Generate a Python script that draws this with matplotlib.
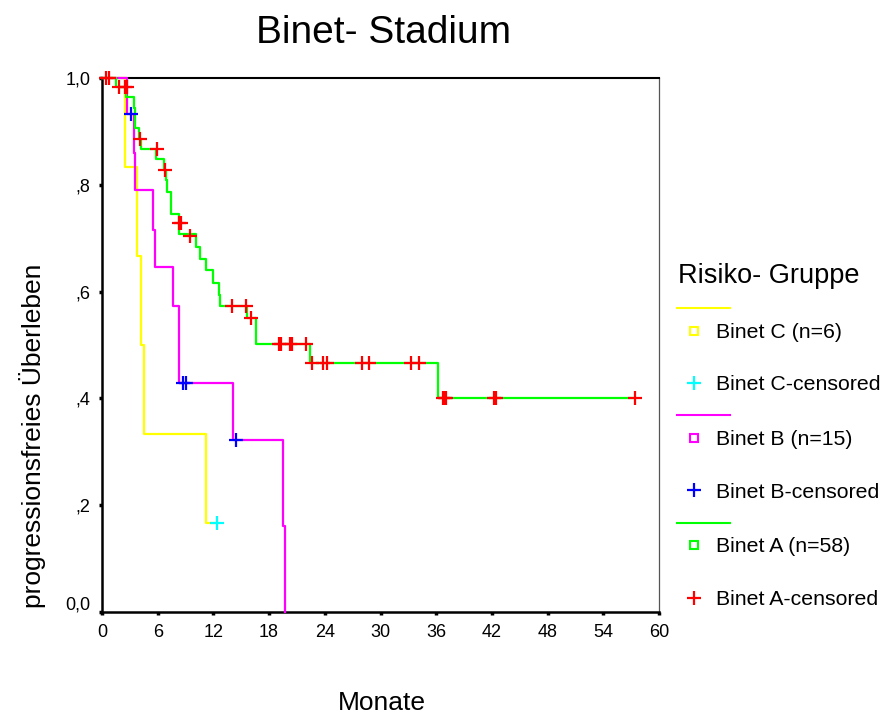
import matplotlib
matplotlib.use("Agg")
from matplotlib import pyplot as plt
from matplotlib.lines import Line2D
from matplotlib.transforms import ScaledTranslation

plt.rcParams['font.family'] = ['Liberation Sans', 'DejaVu Sans']

# Binet C (n=6)
c_times = [0, 2.5, 3.8, 4.2, 4.5, 11.2]
c_surv = [1.0, 0.833, 0.667, 0.5, 0.333, 0.167]
c_cens_t = [12.35]
c_cens_s = [0.167]

# Binet B (n=15)
b_times = [0, 2.7, 3.5, 3.55, 5.5, 5.75, 7.6, 8.3, 14.1, 19.5, 19.7]
b_surv = [1.0, 0.933, 0.86, 0.79, 0.716, 0.646, 0.573, 0.429, 0.322, 0.161, 0.0]
b_cens_t = [3.1, 8.7, 9.1, 14.4]
b_cens_s = [0.933, 0.429, 0.429, 0.322]

# Binet A (n=58)
a_times = [0, 1.5, 2.6, 3.4, 3.6, 4.0, 4.2, 5.8, 6.7, 6.85, 7.05, 7.4, 8.3,
           10.1, 10.6, 11.2, 12.0, 12.6, 12.75, 15.6, 16.55, 22.45, 36.2]
a_surv = [1.0, 0.983, 0.964, 0.944, 0.906, 0.886, 0.867, 0.848, 0.828, 0.809,
          0.786, 0.746, 0.707, 0.683, 0.661, 0.640, 0.617, 0.594, 0.573, 0.551,
          0.501, 0.467, 0.400]
a_cens_t = [0.45, 0.8, 1.85, 2.5, 2.65, 4.05, 5.9, 6.8, 8.3, 8.5, 9.5, 14.0,
            15.5, 16.1, 19.1, 19.3, 20.2, 20.5, 22.0, 22.6, 23.85, 24.2, 28.05,
            28.8, 33.3, 34.1, 36.7, 36.9, 37.1, 42.2, 42.45, 57.4]
a_cens_s = [1.0, 1.0, 0.983, 0.983, 0.983, 0.886, 0.867, 0.828, 0.728, 0.728,
            0.705, 0.573, 0.573, 0.551, 0.501, 0.501, 0.501, 0.501, 0.501,
            0.467, 0.467, 0.467, 0.467, 0.467, 0.467, 0.467,
            0.4, 0.4, 0.4, 0.4, 0.4, 0.4]

x_ticks = [0, 6, 12, 18, 24, 30, 36, 42, 48, 54, 60]
y_ticks = [0.0, 0.2, 0.4, 0.6, 0.8, 1.0]
y_labels = ['0,0', ',2', ',4', ',6', ',8', '1,0']

groups = [
    ('Binet C (n=6)', 'Binet C-censored', '#ffff00', '#00ffff',
     c_times, c_surv, c_cens_t, c_cens_s),
    ('Binet B (n=15)', 'Binet B-censored', '#ff00ff', '#0000ff',
     b_times, b_surv, b_cens_t, b_cens_s),
    ('Binet A (n=58)', 'Binet A-censored', '#00ff00', '#ff0000',
     a_times, a_surv, a_cens_t, a_cens_s),
]

fig = plt.figure(figsize=(8.84, 7.14), dpi=100)
ax = fig.add_axes([102/884, 1 - 612/714, 557/884, 534/714])

# step curves, extended to the last observation
for name, cname, col, ccol, t, s, ct, cs in groups:
    tt = list(t) + [max(t[-1], max(ct))]
    ss = list(s) + [s[-1]]
    ax.step(tt, ss, where='post', color=col, lw=1.6, clip_on=False, zorder=3)
for name, cname, col, ccol, t, s, ct, cs in groups:
    ax.plot(ct, cs, ls='none', marker='+', ms=10, mew=1.6, color=ccol,
            clip_on=False, zorder=4)

ax.set_xlim(0, 60)
ax.set_ylim(0, 1)
ax.set_xticks(x_ticks)
ax.set_yticks(y_ticks)
ax.set_yticklabels(y_labels)
ax.tick_params(direction='out', length=2.5, width=2.5, labelsize=13, pad=6)

# the zero label sits a little above its tick
zero_lab = ax.get_yticklabels()[0]
zero_lab.set_transform(zero_lab.get_transform() +
                       ScaledTranslation(0, 9/100, fig.dpi_scale_trans))

for side in ['left', 'bottom']:
    ax.spines[side].set_linewidth(1.8)
ax.spines['top'].set_linewidth(1.5)
ax.spines['right'].set_linewidth(0.9)
ax.spines['right'].set_color('#555555')

fig.text(384/884, 1 - 33/714, 'Binet- Stadium', fontsize=28,
         ha='center', va='center')
fig.text(382/884, 1 - 703/714, 'Monate', fontsize=19, ha='center', va='center')
fig.text(33/884, 1 - 436/714, 'progressionsfreies Überleben', fontsize=19,
         rotation=90, ha='center', va='center')

# legend drawn in pixel coordinates
lax = fig.add_axes([0, 0, 1, 1])
lax.set_xlim(0, 884)
lax.set_ylim(714, 0)
lax.axis('off')
lax.text(678, 276, 'Risiko- Gruppe', fontsize=19.5, ha='left', va='center')
for i, (name, cname, col, ccol, t, s, ct, cs) in enumerate(groups):
    y0 = 308 + i * 107.3
    lax.add_line(Line2D([677, 730], [y0, y0], color=col, lw=1.5))
    lax.plot([694], [y0 + 22.5], marker='s', ms=5.5, mfc='none', mec=col, mew=1.5)
    lax.plot([694], [y0 + 75], marker='+', ms=10, mew=1.6, color=ccol)
    lax.text(716, y0 + 24, name, fontsize=15.3, ha='left', va='center')
    lax.text(716, y0 + 77, cname, fontsize=15.3, ha='left', va='center')

fig.savefig('out.png', dpi=100)
